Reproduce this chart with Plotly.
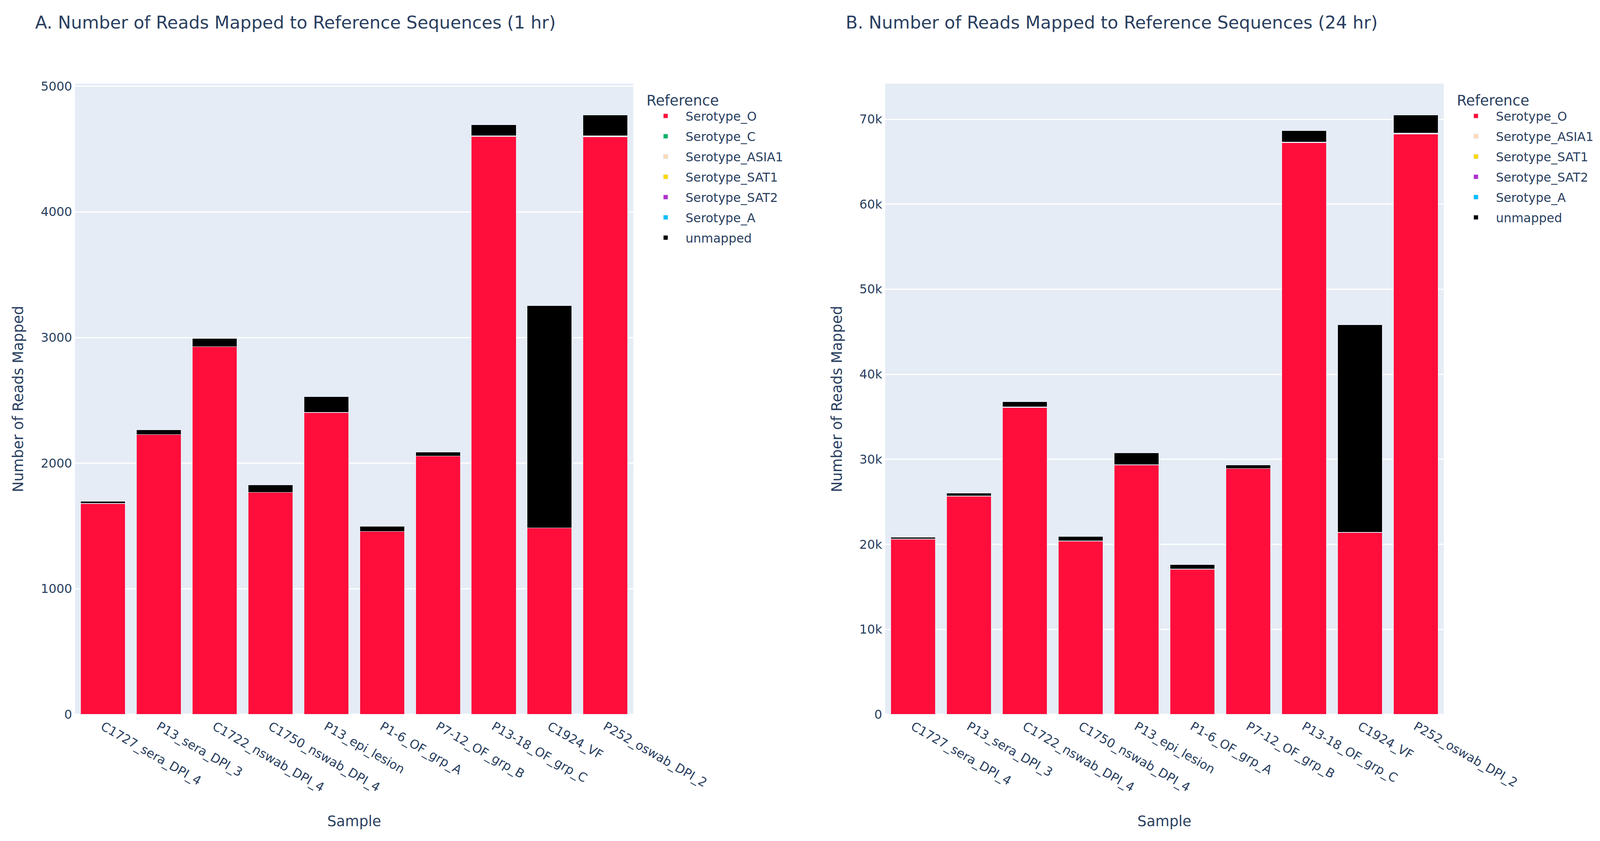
import plotly.graph_objects as go
from plotly.subplots import make_subplots

# ---------------- data ----------------
samples = ["C1727_sera_DPI_4", "P13_sera_DPI_3", "C1722_nswab_DPI_4", "C1750_nswab_DPI_4",
           "P13_epi_lesion", "P1-6_OF_grp_A", "P7-12_OF_grp_B", "P13-18_OF_grp_C",
           "C1924_VF", "P252_oswab_DPI_2"]

# 1 hr
o_1h = [1678, 2227, 2927, 1767, 2402, 1456, 2057, 4600, 1485, 4597]
c_1h = [0, 0, 0, 0, 0, 0, 0, 1, 0, 0]
asia1_1h = [1, 0, 1, 0, 1, 0, 0, 2, 0, 1]
sat1_1h = [0, 0, 0, 0, 0, 0, 0, 1, 0, 0]
sat2_1h = [0, 0, 0, 0, 0, 0, 0, 1, 0, 0]
a_1h = [0, 0, 0, 0, 0, 0, 0, 1, 0, 6]
unmapped_1h = [18, 38, 64, 60, 128, 42, 31, 88, 1770, 166]

# 24 hr
o_24h = [20620, 25650, 36110, 20380, 29330, 17090, 28900, 67230, 21390, 68250]
asia1_24h = [10, 12, 20, 8, 15, 6, 12, 30, 8, 35]
sat1_24h = [2, 3, 4, 2, 3, 1, 2, 6, 2, 8]
sat2_24h = [3, 2, 5, 3, 4, 2, 3, 8, 2, 9]
a_24h = [5, 6, 10, 5, 8, 4, 6, 20, 5, 60]
unmapped_24h = [175, 370, 650, 510, 1420, 520, 410, 1340, 24430, 2110]

colors = {
    "Serotype_O": "#FF0D3B",
    "Serotype_C": "#00B26B",
    "Serotype_ASIA1": "#FFDAB9",
    "Serotype_SAT1": "#FFD700",
    "Serotype_SAT2": "#B22FCF",
    "Serotype_A": "#00BFFF",
    "unmapped": "#000000",
}

series_1h = [("Serotype_O", o_1h), ("Serotype_C", c_1h), ("Serotype_ASIA1", asia1_1h),
             ("Serotype_SAT1", sat1_1h), ("Serotype_SAT2", sat2_1h), ("Serotype_A", a_1h),
             ("unmapped", unmapped_1h)]
series_24h = [("Serotype_O", o_24h), ("Serotype_ASIA1", asia1_24h), ("Serotype_SAT1", sat1_24h),
              ("Serotype_SAT2", sat2_24h), ("Serotype_A", a_24h), ("unmapped", unmapped_24h)]

# ---------------- layout constants (figure fills a 4080x2137 area) ----------------
FW, FH = 4080, 2137
F = 2.63                       # font / line scale
ML, MT = 184.2, 206
PLOT_R, PLOT_B = 3687.6, 1821
MR, MB = FW - PLOT_R, FH - PLOT_B
PW, PH = PLOT_R - ML, PLOT_B - MT
FONT = "DejaVu Sans"
TXT = "#2a3f5f"


def px(xf):
    return (xf - ML) / PW


def py(yf):
    return 1 - (yf - MT) / PH


fig = make_subplots(rows=1, cols=2, horizontal_spacing=0.0)

for name, vals in series_1h:
    fig.add_trace(go.Bar(x=samples, y=vals, name=name, legend="legend",
                         legendgroup="a_" + name,
                         marker=dict(color=colors[name], line=dict(color="#E5ECF6", width=0.5 * F))),
                  row=1, col=1)
for name, vals in series_24h:
    fig.add_trace(go.Bar(x=samples, y=vals, name=name, legend="legend2",
                         legendgroup="b_" + name,
                         marker=dict(color=colors[name], line=dict(color="#E5ECF6", width=0.5 * F))),
                  row=1, col=2)

dom1 = [0, px(1613.3)]
dom2 = [px(2257.6), 1]

axis_common = dict(
    gridcolor="white", gridwidth=1 * F, linecolor="white",
    zerolinecolor="white", zerolinewidth=2 * F,
    tickfont=dict(family=FONT, size=12 * F, color=TXT),
    automargin=False,
)

fig.update_xaxes(domain=dom1, row=1, col=1)
fig.update_xaxes(domain=dom2, row=1, col=2)
fig.update_xaxes(tickangle=30, showgrid=False,
                 title=dict(text="Sample", standoff=55,
                            font=dict(family=FONT, size=14 * F, color=TXT)),
                 **axis_common)
fig.update_yaxes(title=dict(text="Number of Reads Mapped", standoff=33,
                            font=dict(family=FONT, size=14 * F, color=TXT)),
                 **axis_common)
fig.update_yaxes(dtick=1000, row=1, col=1)
fig.update_yaxes(dtick=10000, row=1, col=2)

legend_common = dict(
    title=dict(text="Reference", font=dict(family=FONT, size=14 * F, color=TXT)),
    font=dict(family=FONT, size=12 * F, color=TXT),
    itemwidth=92, tracegroupgap=7.9,
    y=py(214), yanchor="top", xanchor="left",
    bgcolor="rgba(0,0,0,0)",
)

fig.update_layout(
    autosize=True,
    margin=dict(l=ML, r=MR, t=MT, b=MB, autoexpand=False),
    plot_bgcolor="#E5ECF6", paper_bgcolor="white",
    barmode="stack", bargap=0.2,
    font=dict(family=FONT, size=12 * F, color=TXT),
    showlegend=True,
    legend=dict(x=px(1645), **legend_common),
    legend2=dict(x=px(3719), **legend_common),
    annotations=[
        dict(text="A. Number of Reads Mapped to Reference Sequences (1 hr)",
             xref="paper", yref="paper", x=px(80.1), y=py(49),
             xanchor="left", yanchor="middle", showarrow=False,
             font=dict(family=FONT, size=17 * F, color=TXT)),
        dict(text="B. Number of Reads Mapped to Reference Sequences (24 hr)",
             xref="paper", yref="paper", x=px(2155), y=py(49),
             xanchor="left", yanchor="middle", showarrow=False,
             font=dict(family=FONT, size=17 * F, color=TXT)),
    ],
)

fig.write_html("out.html")
